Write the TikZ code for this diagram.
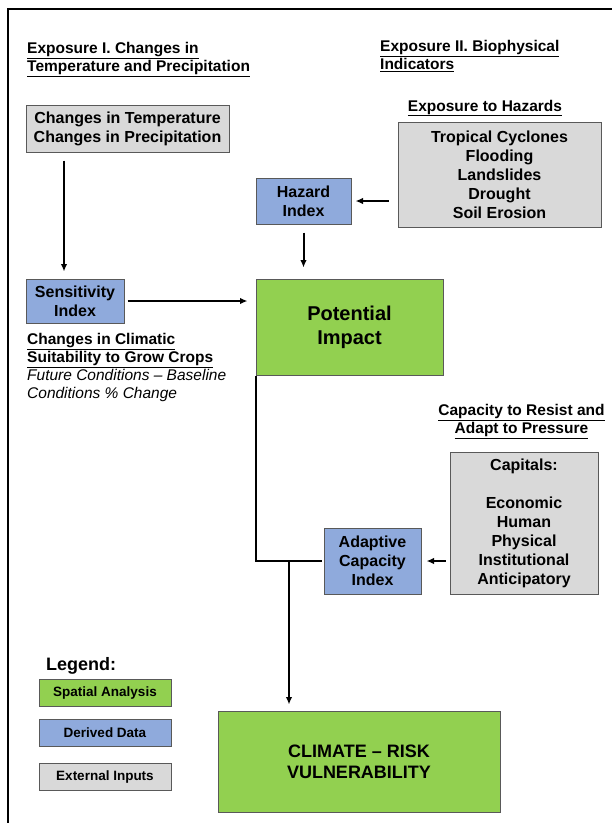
\documentclass[tikz,border=0pt]{standalone}
\usepackage{fontspec}
\setmainfont{Liberation Sans}
\usetikzlibrary{arrows.meta}

\definecolor{spatialgreen}{HTML}{92D050}
\definecolor{derivedblue}{HTML}{8FAADC}
\definecolor{inputgray}{HTML}{D9D9D9}
\definecolor{edgegray}{HTML}{595959}

\tikzset{
  box/.style={draw=edgegray, line width=1pt, align=center, inner sep=0pt,
    font=\bfseries\fontsize{16}{19}\selectfont},
  spatial/.style={box, fill=spatialgreen},
  derived/.style={box, fill=derivedblue},
  external/.style={box, fill=inputgray},
  heading/.style={align=left, inner sep=0pt, font=\bfseries\fontsize{15.5}{18}\selectfont},
  link/.style={line width=2pt},
  arr/.style={link, -{Latex[length=7.5pt,width=6.5pt]}}
}

\begin{document}
\begin{tikzpicture}[x=1pt, y=-1pt]
  \useasboundingbox (0,0) rectangle (612,823);
  \draw[line width=2pt] (8,823) -- (8,9) -- (612,9);

  % headings
  \node[heading, anchor=north west] (headone) at (27,42)
    {\underline{Exposure I. Changes in}\\\underline{Temperature and Precipitation}};
  \node[heading, anchor=north west] (headtwo) at (380,40)
    {\underline{Exposure II. Biophysical}\\\underline{Indicators}};
  \node[heading, anchor=base] (headhaz) at (485,111) {\underline{Exposure to Hazards}};
  \node[heading, align=center, anchor=north] (headcap) at (521.5,404)
    {\underline{Capacity to Resist and}\\\underline{Adapt to Pressure}};

  % inputs and derived data
  \node[external, minimum width=203pt, minimum height=47pt] (temp) at (127.5,128.5)
    {Changes in Temperature\\Changes in Precipitation};
  \node[external, minimum width=203pt, minimum height=105pt] (hazards) at (499.5,174.5)
    {Tropical Cyclones\\Flooding\\Landslides\\Drought\\Soil Erosion};
  \node[derived, minimum width=95pt, minimum height=46pt] (hazidx) at (303.5,201)
    {Hazard\\Index};
  \node[derived, minimum width=98pt, minimum height=44pt] (sensidx) at (75,301)
    {Sensitivity\\Index};
  \node[heading, anchor=north west, font=\fontsize{15.5}{18}\selectfont] (sensnote) at (27,333)
    {\bfseries\underline{Changes in Climatic}\\
     \bfseries\underline{Suitability to Grow Crops}\\
     \itshape Future Conditions -- Baseline\\
     \itshape Conditions \% Change};
  \node[spatial, minimum width=187pt, minimum height=96pt,
    font=\bfseries\fontsize{20}{24}\selectfont] (potimp) at (349.5,327)
    {Potential\\Impact};
  \node[external, minimum width=148pt, minimum height=142pt] (capitals) at (524,523)
    {Capitals:\\\mbox{}\\Economic\\Human\\Physical\\Institutional\\Anticipatory};
  \node[derived, minimum width=97pt, minimum height=66pt] (adapidx) at (372.5,561)
    {Adaptive\\Capacity\\Index};
  \node[spatial, minimum width=282pt, minimum height=101pt,
    font=\bfseries\fontsize{18}{21}\selectfont] (vuln) at (359,761.5)
    {CLIMATE -- RISK\\VULNERABILITY};

  % legend
  \node[anchor=west, inner sep=0pt, font=\bfseries\fontsize{18}{22}\selectfont] (legend) at (46,666) {Legend:};
  \node[spatial, minimum width=132pt, minimum height=27pt, font=\bfseries\fontsize{13.5}{16}\selectfont] (legspatial) at (105,692.5) {Spatial Analysis};
  \node[derived, minimum width=132pt, minimum height=27pt, font=\bfseries\fontsize{13.5}{16}\selectfont] (legderived) at (105,733) {Derived Data};
  \node[external, minimum width=132pt, minimum height=27pt, font=\bfseries\fontsize{13.5}{16}\selectfont] (legexternal) at (105,776.5) {External Inputs};

  % connectors
  \coordinate (tempdrop) at (64,0);
  \coordinate (jn) at (289,561);
  \draw[arr, shorten <=8pt, shorten >=7pt] (temp.south -| tempdrop) -- (sensidx.north -| tempdrop);
  \draw[arr, shorten <=3pt, shorten >=8pt] (sensidx.east) -- (sensidx.east -| potimp.west);
  \draw[arr, shorten <=9pt, shorten >=4pt] (hazards.west |- hazidx.east) -- (hazidx.east);
  \draw[arr, shorten <=8pt, shorten >=11pt] (hazidx.south) -- (hazidx.south |- potimp.north);
  \draw[link, shorten >=2pt] (potimp.south west) |- (adapidx.west);
  \draw[arr, shorten <=4pt, shorten >=5pt] (capitals.west |- adapidx.east) -- (adapidx.east);
  \draw[arr, shorten >=6pt] (jn) -- (jn |- vuln.north);
\end{tikzpicture}
\end{document}
